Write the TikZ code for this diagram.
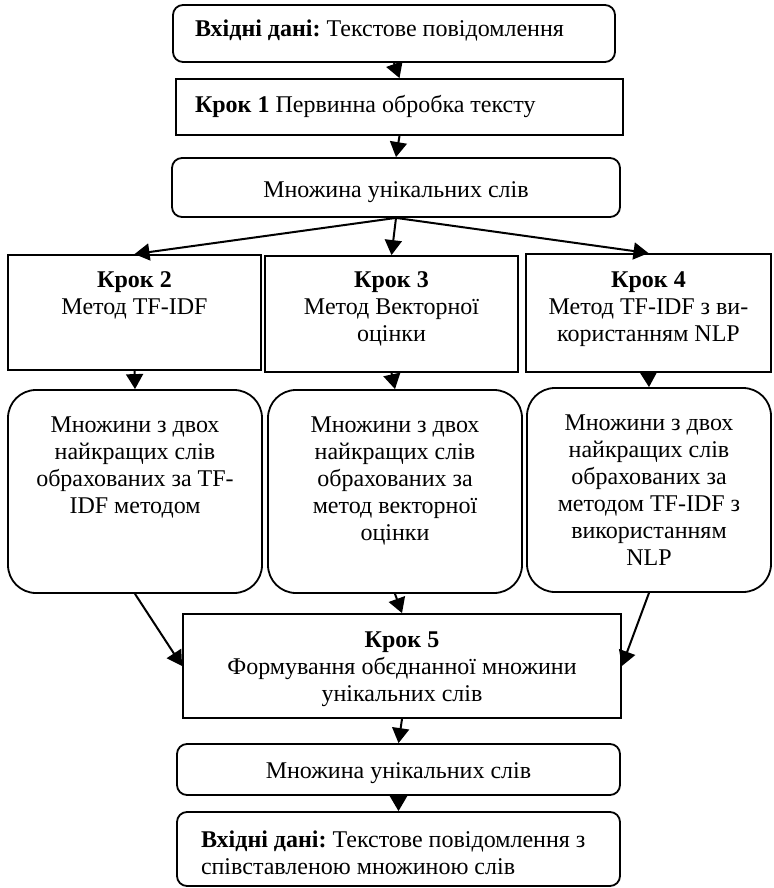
\documentclass[tikz,border=0pt]{standalone}
\usepackage{fontspec}
\setmainfont{Liberation Serif}
\usetikzlibrary{arrows.meta}
\frenchspacing
\newcommand{\bxc}[4]{\parbox[c][#2][t]{#1}{\centering\rule{0pt}{#3}#4\par}}
\newcommand{\bxl}[5]{\parbox[c][#2][t]{#1}{\raggedright\leftskip=#4\relax\rule{0pt}{#3}#5\par}}
\tikzset{
  box/.style={draw, line width=1.8pt, inner sep=0pt, font=\fontsize{24}{27}\selectfont},
  rbox/.style={box, rounded corners=10pt},
  bigr/.style={box, rounded corners=28pt},
  arr/.style={-{Triangle[length=15pt,width=17pt]}, line width=2pt}
}
\begin{document}
\begin{tikzpicture}[x=1pt,y=-1pt]
\useasboundingbox (0,0) rectangle (773,888);
\node[rbox] (b1) at (394,33.5) {\bxl{442pt}{57pt}{32pt}{22pt}{\textbf{Вхідні дані:} Текстове повідомлення}};
\node[box] (b2) at (399.5,107) {\bxl{447pt}{56pt}{34pt}{19pt}{\textbf{Крок 1} Первинна обробка тексту}};
\node[rbox] (b3) at (396,187.5) {\bxc{448pt}{59pt}{39pt}{Множина унікальних слів}};
\node[box] (s2) at (134.5,312.5) {\bxc{253pt}{115pt}{32pt}{\textbf{Крок 2}\\Метод TF-IDF}};
\node[box] (s3) at (391.5,314) {\bxc{253pt}{116pt}{31pt}{\textbf{Крок 3}\\Метод Векторної\\оцінки}};
\node[box] (s4) at (648.5,313) {\bxc{245pt}{118pt}{33pt}{\textbf{Крок 4}\\Метод TF-IDF з ви-\\користанням NLP}};
\node[bigr] (r2) at (135,491.5) {\bxc{254pt}{203pt}{42pt}{Множини з двох\\найкращих слів\\обрахованих за TF-\\IDF методом}};
\node[bigr] (r3) at (395,491.5) {\bxc{254pt}{203pt}{42pt}{Множини з двох\\найкращих слів\\обрахованих за\\метод векторної\\оцінки}};
\node[bigr] (r4) at (649,490) {\bxc{244pt}{204pt}{42pt}{Множини з двох\\найкращих слів\\обрахованих за\\методом TF-IDF з\\використанням\\NLP}};
\node[box] (s5) at (402,666) {\bxc{438pt}{104pt}{33pt}{\textbf{Крок 5}\\Формування обєднанної множини\\унікальних слів}};
\node[rbox] (set) at (398.5,769.5) {\bxc{443pt}{51pt}{34pt}{Множина унікальних слів}};
\node[rbox] (last) at (398.5,849) {\bxl{443pt}{74pt}{35pt}{24pt}{\textbf{Вхідні дані:} Текстове повідомлення з\\співставленою множиною слів}};
\draw[arr] (b1.south) -- (b2.north);
\draw[arr] (b2.south) -- (b3.north);
\draw[arr] (b3.south) -- (s2.north);
\draw[arr] (b3.south) -- (s3.north);
\draw[arr] (b3.south) -- (s4.north);
\draw[arr] (s2.south) -- (r2.north);
\draw[arr] (s3.south) -- (r3.north);
\draw[arr] (s4.south) -- (r4.north);
\draw[arr] (r2.south) -- (s5.west);
\draw[arr] (r3.south) -- (s5.north);
\draw[arr] (r4.south) -- (s5.east);
\draw[arr] (s5.south) -- (set.north);
\draw[arr] (set.south) -- (last.north);
\end{tikzpicture}
\end{document}
